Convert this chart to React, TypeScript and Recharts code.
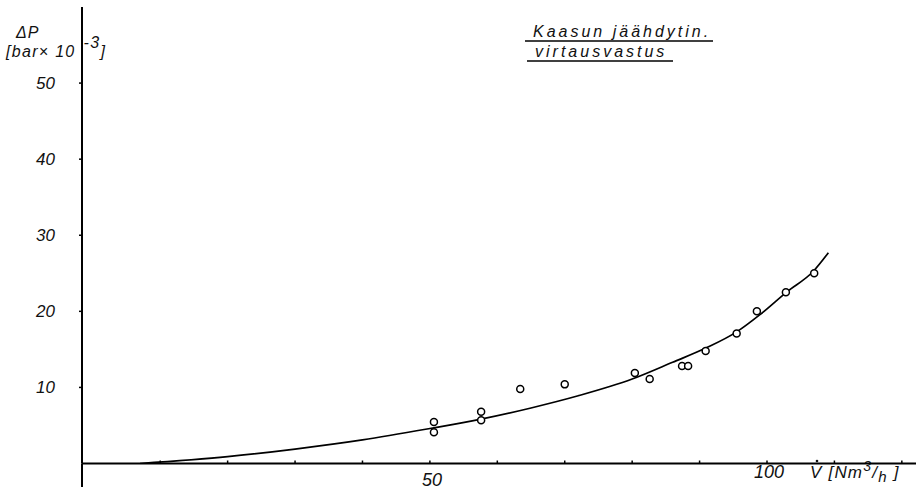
import { ComposedChart, Line, Scatter, XAxis, YAxis, ReferenceLine } from "recharts";

// flow V [Nm3/h] and pressure drop dP [bar x 10^-3]
const flowTicks = [10, 20, 30, 40, 50, 60, 70, 80, 90, 100, 110, 120];
const flowLabels = [50, 100];
const pressureTicks = [10, 20, 30, 40, 50];

// fitted curve
const curveFlow = [7, 20, 30, 40, 50, 57.4, 65, 72, 80, 86, 91, 95.5, 99, 103, 106.8, 109.1];
const curvePressure = [0, 0.9, 1.9, 3.1, 4.6, 5.8, 7.3, 8.9, 11.1, 13.3, 15.2, 17.3, 19.6, 22.6, 25.2, 27.7];

// measured points
const pointFlow = [50.6, 50.6, 57.6, 57.6, 63.4, 70.0, 80.4, 82.6, 87.4, 88.3, 90.9, 95.5, 98.5, 102.8, 107.0];
const pointPressure = [5.45, 4.1, 6.8, 5.7, 9.8, 10.4, 11.9, 11.1, 12.8, 12.8, 14.8, 17.1, 20.0, 22.5, 25.0];

const curve = curveFlow.map((x, i) => ({ x, y: curvePressure[i] }));
const points = pointFlow.map((x, i) => ({ x, y: pointPressure[i] }));

const FONT = "'Liberation Sans', Arial, sans-serif";
const labelDy: Record<number, number> = { 50: 22, 100: 14 };

function FlowTick(props: any) {
  const { x, y, payload } = props;
  const v = payload.value;
  return (
    <g>
      <line x1={x} x2={x} y1={y} y2={y - 3} stroke="#000" strokeWidth={1.5} />
      {flowLabels.includes(v) && (
        <text x={x + 2} y={y + (labelDy[v] || 20)} textAnchor="middle" fontFamily={FONT} fontStyle="italic" fontSize={18} fill="#111">
          {v}
        </text>
      )}
    </g>
  );
}

function Ring(props: any) {
  const { cx, cy } = props;
  return <circle cx={cx} cy={cy} r={3.5} fill="#fff" stroke="#000" strokeWidth={1.5} />;
}

export default function App() {
  return (
    <div style={{ position: "absolute", left: 0, top: 0, background: "#fff" }}>
      <ComposedChart width={922} height={491} margin={{ top: 7, right: 6, bottom: 0, left: 0 }}>
        <XAxis
          dataKey="x"
          type="number"
          domain={[-1.6, 122.1]}
          ticks={flowTicks}
          height={27.5}
          axisLine={{ stroke: "#000", strokeWidth: 2 }}
          tickLine={false}
          tickSize={0}
          tickMargin={0}
          tick={<FlowTick />}
          allowDataOverflow
        />
        <YAxis
          dataKey="y"
          type="number"
          domain={[0, 60]}
          ticks={pressureTicks}
          width={82}
          axisLine={{ stroke: "#000", strokeWidth: 2 }}
          tickLine={{ stroke: "#000", strokeWidth: 1.5 }}
          tickSize={3}
          tickMargin={24}
          tick={{ fontFamily: FONT, fontStyle: "italic", fontSize: 17, fill: "#111" }}
          allowDataOverflow
        />
        {/* axis continues a little below the origin */}
        <ReferenceLine
          segment={[{ x: -1.6, y: 0 }, { x: -1.6, y: -3.1 }]}
          stroke="#000"
          strokeWidth={2}
          ifOverflow="visible"
        />
        <Line
          data={curve}
          dataKey="y"
          type="monotone"
          stroke="#000"
          strokeWidth={1.7}
          dot={false}
          isAnimationActive={false}
        />
        <Scatter data={points} dataKey="y" shape={<Ring />} isAnimationActive={false} />

        <g fontFamily={FONT} fontStyle="italic" fill="#111">
          <text x={16} y={38} fontSize={16} letterSpacing={1}>ΔP</text>
          <text x={6} y={57} fontSize={16} letterSpacing={1.3}>
            [bar× 10<tspan dx={8} dy={-9}>-3</tspan>
            <tspan dy={9}>]</tspan>
          </text>

          <text x={533} y={37} fontSize={16} letterSpacing={3}>Kaasun  jäähdytin.</text>
          <text x={535} y={57} fontSize={16} letterSpacing={3}>virtausvastus</text>
          <line x1={525} x2={713} y1={41} y2={41} stroke="#000" strokeWidth={1.5} />
          <line x1={527} x2={673} y1={61} y2={61} stroke="#000" strokeWidth={1.5} />

          <text x={810} y={478} fontSize={17} letterSpacing={1.2}>
            V  [Nm<tspan dy={-7} fontSize={14}>3</tspan>
            <tspan dy={7}>/</tspan>
            <tspan dy={4} fontSize={15}>h</tspan>
            <tspan dy={-4}>  ]</tspan>
          </text>
          {/* dot over the V */}
          <circle cx={817} cy={461} r={1.3} fill="#111" />
        </g>
      </ComposedChart>
    </div>
  );
}
